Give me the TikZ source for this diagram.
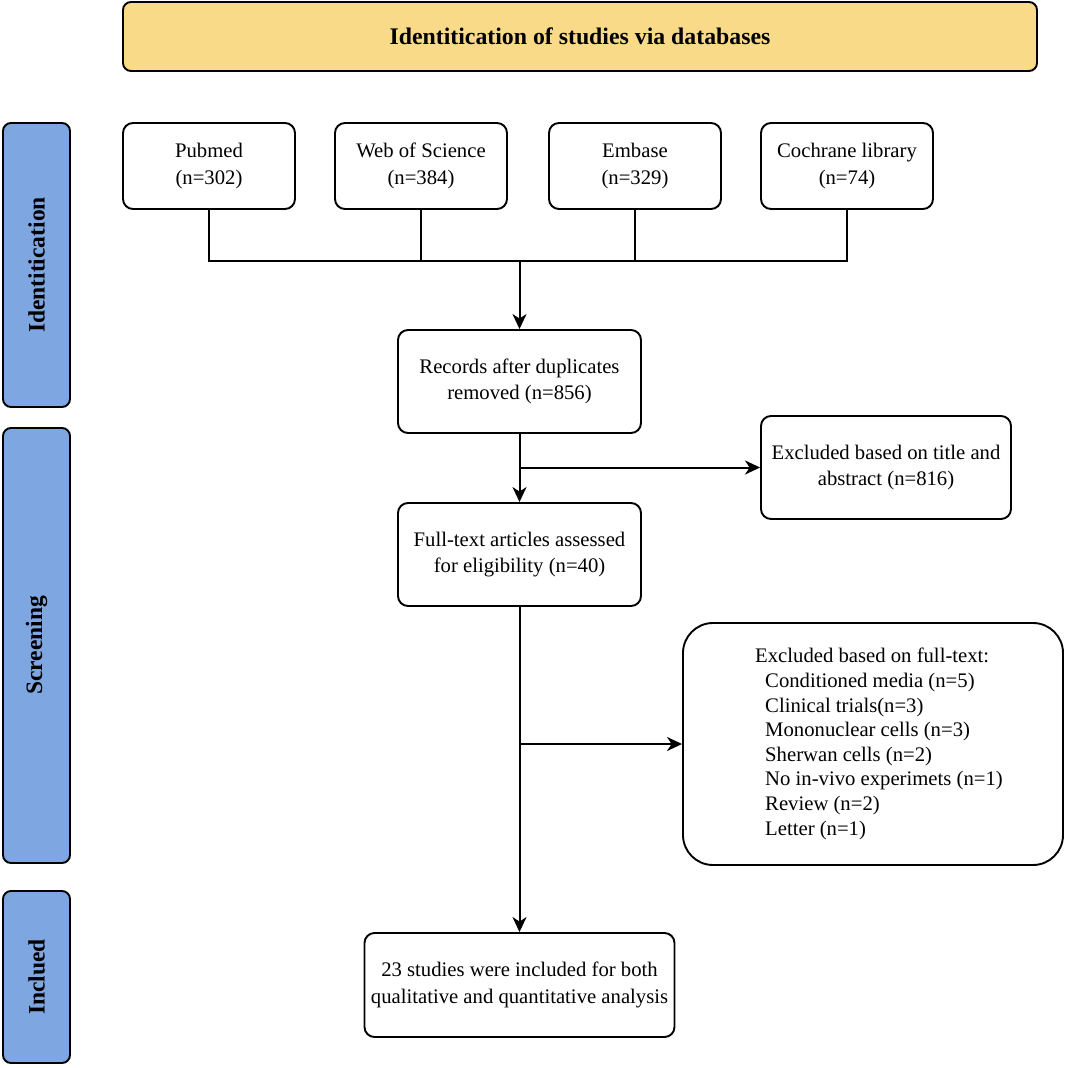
\documentclass[tikz,border=0pt]{standalone}
\usepackage{fontspec}
\setmainfont{Liberation Serif}
\usetikzlibrary{arrows.meta}
\definecolor{titlefill}{HTML}{F9DA88}
\definecolor{sidefill}{HTML}{7EA6E0}
\begin{document}
\begin{tikzpicture}[x=1pt,y=-1pt,
  box/.style={draw, line width=1.9pt, rounded corners=10pt, fill=white,
    minimum width=172pt, minimum height=86pt, align=center, inner sep=0pt,
    font=\fontsize{20.7}{26.5}\selectfont},
  side/.style={draw, line width=1.9pt, rounded corners=8pt, fill=sidefill,
    rotate=90, minimum height=67pt, inner sep=0pt,
    font=\fontsize{23.5}{28}\selectfont\bfseries},
  conn/.style={line width=2pt},
  arr/.style={conn, -{Stealth[length=15pt,width=14pt,inset=4.5pt]}}]
\useasboundingbox (0,0) rectangle (1065,1068);

% title
\node[draw, line width=1.9pt, rounded corners=8pt, fill=titlefill,
  minimum width=914pt, minimum height=69pt, inner sep=0pt,
  font=\fontsize{23.8}{28}\selectfont\bfseries] (title) at (580,36.5)
  {Identitication of studies via databases};

% side bars
\node[side, minimum width=284pt] (ident) at (36.5,265) {Identitication};
\node[side, minimum width=435pt] (screen) at (36.5,645.5) {Screening};
\node[side, minimum width=172pt] (incl) at (36.5,977) {Inclued};

% databases
\node[box] (pubmed) at (209,166) {Pubmed\\(n=302)};
\node[box] (wos) at (421,166) {Web of Science\\(n=384)};
\node[box] (embase) at (635,166) {Embase\\(n=329)};
\node[box] (cochrane) at (847,166) {Cochrane library\\(n=74)};

% flow
\node[box, minimum width=243pt, minimum height=103pt] (records) at (519.5,381.5)
  {Records after duplicates\\removed (n=856)};
\node[box, minimum width=243pt, minimum height=103pt] (fulltext) at (519.5,554.5)
  {Full-text articles assessed\\for eligibility (n=40)};
\node[box, minimum width=250pt, minimum height=103pt] (excl1) at (886,467.5)
  {Excluded based on title and\\abstract (n=816)};
\node[box, rounded corners=30pt, minimum width=380pt, minimum height=242pt,
  align=left, font=\fontsize{20.7}{24.6}\selectfont] (excl2) at (873,744)
  {\hspace*{12pt}Excluded based on full-text:\\
   \hspace*{22pt}Conditioned media (n=5)\\
   \hspace*{22pt}Clinical trials(n=3)\\
   \hspace*{22pt}Mononuclear cells (n=3)\\
   \hspace*{22pt}Sherwan cells (n=2)\\
   \hspace*{22pt}No in-vivo experimets (n=1)\\
   \hspace*{22pt}Review (n=2)\\
   \hspace*{22pt}Letter (n=1)};
\node[box, minimum width=310pt, minimum height=104pt] (final) at (519.5,985)
  {23 studies were included for both\\qualitative and quantitative analysis};

% connectors
\coordinate (j) at (519.5,261);
\draw[conn] (pubmed.south) |- (cochrane.south |- j) -- (cochrane.south);
\draw[conn] (wos.south) -- (wos.south |- j);
\draw[conn] (embase.south) -- (embase.south |- j);
\draw[arr] (j) -- (records.north);
\draw[arr] (records.south) -- (fulltext.north);
\draw[arr] (records.south |- excl1.west) -- (excl1.west);
\draw[arr] (fulltext.south) -- (final.north);
\draw[arr] (fulltext.south |- excl2.west) -- (excl2.west);
\end{tikzpicture}
\end{document}
